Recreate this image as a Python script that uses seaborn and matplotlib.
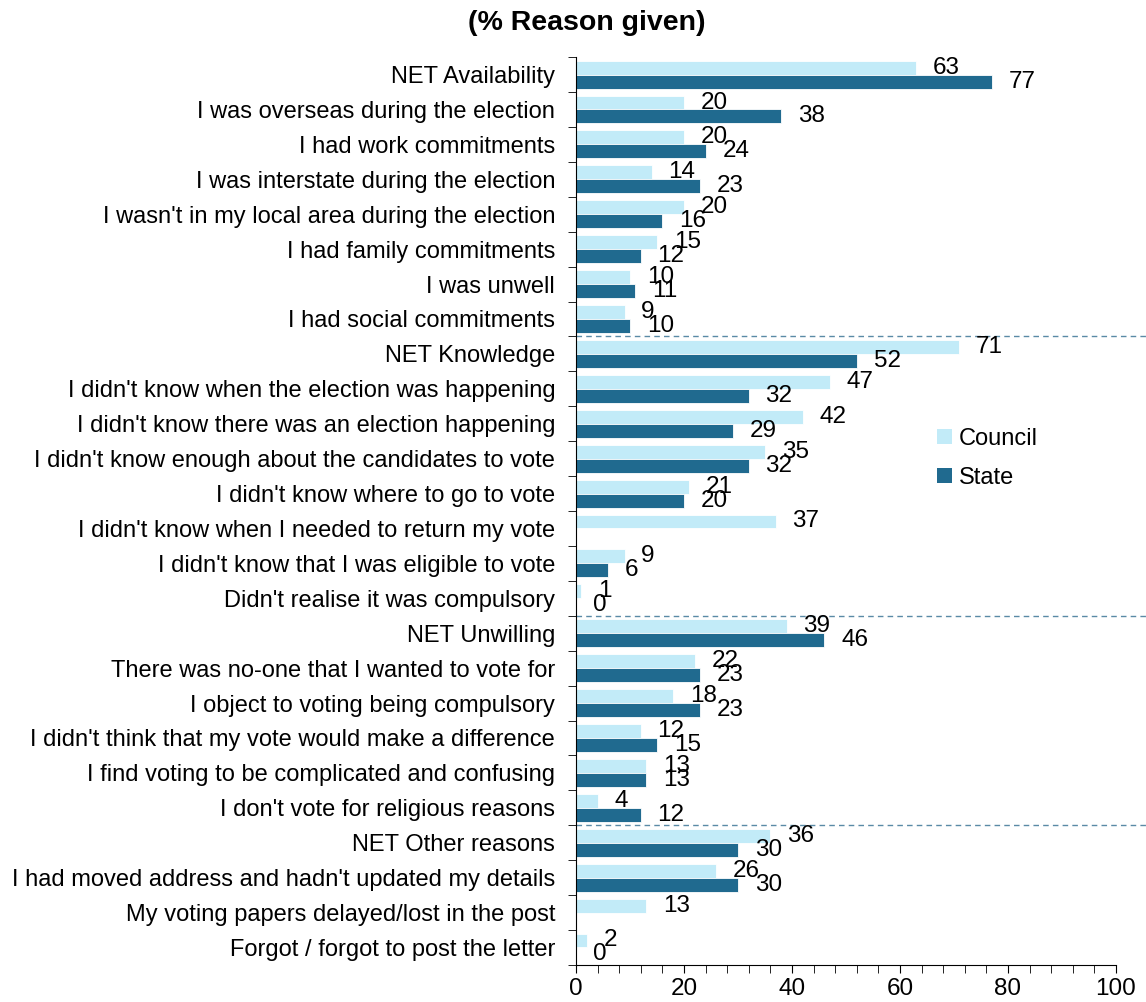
import numpy as np
import pandas as pd
import seaborn as sns
from matplotlib import pyplot as plt
from matplotlib.ticker import MultipleLocator, FixedLocator
from matplotlib.patches import Patch
import matplotlib.transforms as mtransforms

razones = [
    "NET Availability",
    "I was overseas during the election",
    "I had work commitments",
    "I was interstate during the election",
    "I wasn't in my local area during the election",
    "I had family commitments",
    "I was unwell",
    "I had social commitments",
    "NET Knowledge",
    "I didn't know when the election was happening",
    "I didn't know there was an election happening",
    "I didn't know enough about the candidates to vote",
    "I didn't know where to go to vote",
    "I didn't know when I needed to return my vote",
    "I didn't know that I was eligible to vote",
    "Didn't realise it was compulsory",
    "NET Unwilling",
    "There was no-one that I wanted to vote for",
    "I object to voting being compulsory",
    "I didn't think that my vote would make a difference",
    "I find voting to be complicated and confusing",
    "I don't vote for religious reasons",
    "NET Other reasons",
    "I had moved address and hadn't updated my details",
    "My voting papers delayed/lost in the post",
    "Forgot / forgot to post the letter",
]
council = [63, 20, 20, 14, 20, 15, 10, 9,
           71, 47, 42, 35, 21, 37, 9, 1,
           39, 22, 18, 12, 13, 4,
           36, 26, 13, 2]
state = [77, 38, 24, 23, 16, 12, 11, 10,
         52, 32, 29, 32, 20, np.nan, 6, 0,
         46, 23, 23, 15, 13, 12,
         30, 30, np.nan, 0]
separadores = [7.5, 15.5, 21.5]

colores = {"Council": "#C2EBF8", "State": "#206A8F"}

plt.rcParams['font.family'] = ['Liberation Sans', 'DejaVu Sans']
plt.rcParams['font.size'] = 17

df = pd.DataFrame({"razon": razones * 2,
                   "pct": council + state,
                   "grupo": ["Council"] * len(razones) + ["State"] * len(razones)})

fig = plt.figure(figsize=(11.46, 10.02), dpi=100)
ax = fig.add_axes([0.5026, 0.037, 0.4712, 0.906])

sns.barplot(data=df, y="razon", x="pct", hue="grupo", orient="h",
            palette=colores, saturation=1, width=0.8, edgecolor="white",
            linewidth=0.6, legend=False, ax=ax)

# etiquetas de valores
for i, (c, s) in enumerate(zip(council, state)):
    if not np.isnan(c):
        ax.text(c + 3.1, i - 0.2, f"{c:g}", va="center", ha="left", fontsize=17.5)
    if not np.isnan(s):
        ax.text(s + 3.1, i + 0.2, f"{s:g}", va="center", ha="left", fontsize=17.5)

ax.set_xlim(0, 100)
ax.set_ylim(len(razones) - 0.5, -0.5)
ax.xaxis.set_major_locator(MultipleLocator(20))
ax.xaxis.set_minor_locator(MultipleLocator(4))
ax.tick_params(axis="x", which="major", length=6, direction="out", labelsize=17.5)
ax.tick_params(axis="x", which="minor", length=6, direction="out")
ax.yaxis.set_minor_locator(FixedLocator(np.arange(-0.5, len(razones), 1)))
ax.tick_params(axis="y", which="major", length=0, pad=15, labelsize=17)
ax.tick_params(axis="y", which="minor", length=6, direction="out")
ax.set_xlabel("")
ax.set_ylabel("")
for lado in ["top", "right"]:
    ax.spines[lado].set_visible(False)

# lineas punteadas entre grupos
trans = mtransforms.blended_transform_factory(ax.transAxes, ax.transData)
for y in separadores:
    ax.plot([0, 1.06], [y, y], transform=trans, color="#5A8AA6",
            linestyle=(0, (4, 3)), linewidth=1, clip_on=False)

handles = [Patch(facecolor=colores[k], label=k) for k in colores]
ax.legend(handles=handles, loc="center left", bbox_to_anchor=(0.63, 0.558),
          frameon=False, handlelength=0.6, handleheight=0.6,
          handletextpad=0.3, labelspacing=0.75, fontsize=17)

fig.suptitle("(% Reason given)", x=0.512, y=0.99, fontsize=20.5, fontweight="bold")

fig.savefig("out.png", dpi=100)
